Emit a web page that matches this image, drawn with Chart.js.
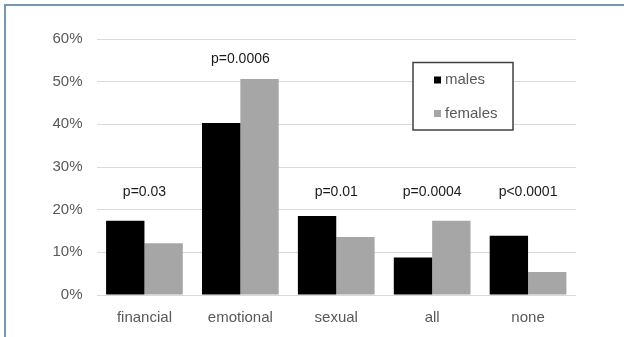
<!DOCTYPE html>
<html>
<head>
<meta charset="utf-8">
<script src="https://cdn.jsdelivr.net/npm/chart.js@4"></script>
<style>
  html, body { margin: 0; padding: 0; background: #fff; overflow: hidden; width: 624px; height: 337px; }
  #wrap { position: absolute; left: 0; top: 0; width: 624px; height: 337px; }
</style>
</head>
<body>
<div id="wrap"><canvas id="grafico" width="624" height="337"></canvas></div>
<script>
const categorias = ['financial', 'emotional', 'sexual', 'all', 'none'];
const males = [17.4, 40.3, 18.5, 8.8, 13.9];
const females = [12.1, 50.6, 13.6, 17.4, 5.4];
const pValores = ['p=0.03', 'p=0.0006', 'p=0.01', 'p=0.0004', 'p<0.0001'];

const fuente = 'Liberation Sans, Arial, sans-serif';

// frame line along the top and left edges of the picture
const marco = {
  id: 'marco',
  afterDraw(chart) {
    const ctx = chart.ctx;
    ctx.save();
    ctx.strokeStyle = '#7896b6';
    ctx.lineWidth = 2;
    ctx.beginPath();
    ctx.moveTo(5, chart.height);
    ctx.lineTo(5, 5);
    ctx.lineTo(chart.width, 5);
    ctx.stroke();
    ctx.restore();
  }
};

// p-values above each pair of bars
const etiquetasP = {
  id: 'etiquetasP',
  afterDatasetsDraw(chart) {
    const ctx = chart.ctx;
    const x = chart.scales.x, y = chart.scales.y;
    ctx.save();
    ctx.font = '14px ' + fuente;
    ctx.fillStyle = '#1a1a1a';
    ctx.textAlign = 'center';
    ctx.textBaseline = 'middle';
    pValores.forEach((txt, i) => {
      const alto = Math.max(males[i], females[i]);
      const nivel = Math.max(24.2, alto + 4.7);
      ctx.fillText(txt, x.getPixelForValue(i), y.getPixelForValue(nivel));
    });
    ctx.restore();
  }
};

// boxed legend inside the plot
const leyenda = {
  id: 'leyenda',
  afterDraw(chart) {
    const ctx = chart.ctx;
    ctx.save();
    ctx.fillStyle = '#fff';
    ctx.fillRect(413, 62.5, 100, 67.5);
    ctx.strokeStyle = '#404040';
    ctx.lineWidth = 1.5;
    ctx.strokeRect(413, 62.5, 100, 67.5);
    ctx.font = '15px ' + fuente;
    ctx.textBaseline = 'middle';
    chart.data.datasets.forEach((ds, i) => {
      const cy = 80 + i * 33.5;
      ctx.fillStyle = ds.backgroundColor;
      ctx.fillRect(434, cy - 3.5, 7, 7);
      ctx.fillStyle = '#595959';
      ctx.fillText(ds.label, 445, cy);
    });
    ctx.restore();
  }
};

const ctx = document.getElementById('grafico').getContext('2d');
new Chart(ctx, {
  type: 'bar',
  data: {
    labels: categorias,
    datasets: [
      { label: 'males', data: males, backgroundColor: '#000000' },
      { label: 'females', data: females, backgroundColor: '#a6a6a6' }
    ]
  },
  options: {
    responsive: false,
    animation: false,
    categoryPercentage: 0.8,
    barPercentage: 1.0,
    layout: { padding: { left: 0, right: 48, top: 39, bottom: 0 } },
    plugins: {
      legend: { display: false },
      tooltip: { enabled: false }
    },
    scales: {
      x: {
        grid: { display: false },
        border: { display: false },
        ticks: { color: '#595959', font: { family: fuente, size: 15 }, padding: 6 },
        afterFit(s) { s.height = 42; }
      },
      y: {
        min: 0,
        max: 60,
        grid: { color: '#d9d9d9', lineWidth: 1, drawTicks: false },
        border: { display: false },
        ticks: {
          stepSize: 10,
          color: '#595959',
          font: { family: fuente, size: 15 },
          padding: 14,
          callback: v => v + '%'
        },
        afterFit(s) { s.width = 96.5; }
      }
    }
  },
  plugins: [marco, etiquetasP, leyenda]
});
</script>
</body>
</html>
